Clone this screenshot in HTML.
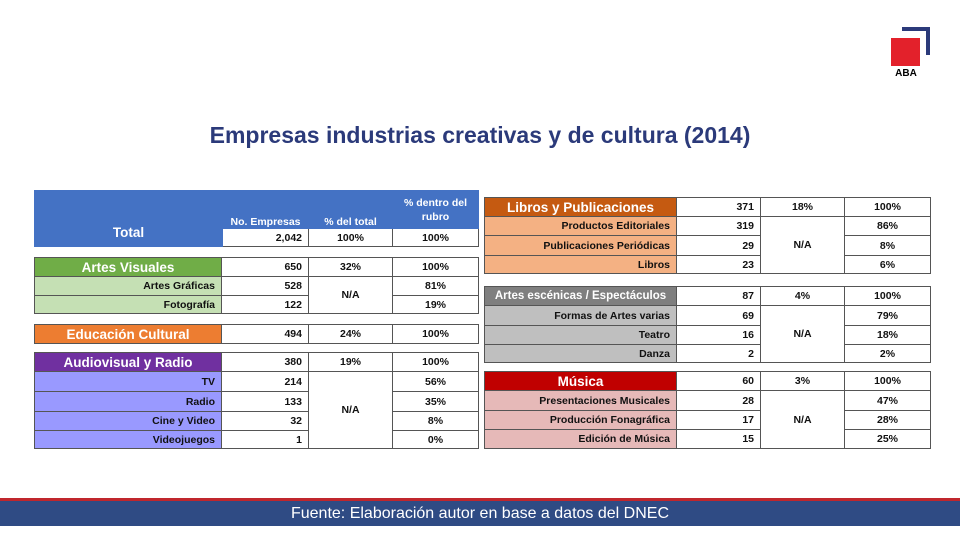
<!DOCTYPE html>
<html><head><meta charset="utf-8"><style>
body{margin:0;width:960px;height:540px;background:#fff;position:relative;overflow:hidden;font-family:"Liberation Sans",sans-serif;}
.t{position:absolute;border-collapse:collapse;table-layout:fixed;font-size:10.5px;font-weight:bold;color:#111;}
.t td{border:1px solid #555;padding:0 6px;white-space:nowrap;overflow:hidden;}
.r{text-align:right}.c{text-align:center}
.h{color:#fff;font-size:13.5px;text-align:center}
.title{position:absolute;top:122px;left:0;width:960px;text-align:center;font-size:23px;font-weight:bold;color:#2b3a7a;}
</style></head><body>
<div class="title">Empresas industrias creativas y de cultura (2014)</div>
<div style="position:absolute;left:902px;top:27px;width:28px;height:28px;border-top:4px solid #2b3a7a;border-right:4px solid #2b3a7a;box-sizing:border-box"></div>
<div style="position:absolute;left:891px;top:38px;width:29px;height:28px;background:#e3212b"></div>
<div style="position:absolute;left:890px;top:68px;width:32px;text-align:center;font-size:10px;font-weight:bold">ABA</div>

<!-- Total -->
<table class="t" style="left:34px;top:190px;width:444px">
<col style="width:188px"><col style="width:86px"><col style="width:84px"><col style="width:86px">
<tr style="height:38px"><td rowspan="2" class="h" style="background:#4472c4;border-color:#4472c4;vertical-align:bottom;padding-bottom:6px">Total</td>
<td class="c" style="background:#4472c4;color:#fff;border-color:#4472c4;vertical-align:bottom">No. Empresas</td>
<td class="c" style="background:#4472c4;color:#fff;border-color:#4472c4;vertical-align:bottom">% del total</td>
<td class="c" style="background:#4472c4;color:#fff;border-color:#4472c4;white-space:normal;line-height:14px">% dentro del rubro</td></tr>
<tr style="height:18px"><td class="r">2,042</td><td class="c">100%</td><td class="c">100%</td></tr>
</table>

<table class="t" style="left:34px;top:257px;width:444px">
<col style="width:187px"><col style="width:87px"><col style="width:84px"><col style="width:86px">
<tr style="height:19px"><td class="h" style="background:#70ad47">Artes Visuales</td><td class="r">650</td><td class="c">32%</td><td class="c">100%</td></tr>
<tr style="height:19px"><td class="r" style="background:#c5e0b4">Artes Gráficas</td><td class="r">528</td><td class="c" rowspan="2">N/A</td><td class="c">81%</td></tr>
<tr style="height:18px"><td class="r" style="background:#c5e0b4">Fotografía</td><td class="r">122</td><td class="c">19%</td></tr>
</table>

<table class="t" style="left:34px;top:324px;width:444px">
<col style="width:187px"><col style="width:87px"><col style="width:84px"><col style="width:86px">
<tr style="height:19px"><td class="h" style="background:#ed7d31">Educación Cultural</td><td class="r">494</td><td class="c">24%</td><td class="c">100%</td></tr>
</table>

<table class="t" style="left:34px;top:352px;width:444px">
<col style="width:187px"><col style="width:87px"><col style="width:84px"><col style="width:86px">
<tr style="height:19px"><td class="h" style="background:#7030a0">Audiovisual y Radio</td><td class="r">380</td><td class="c">19%</td><td class="c">100%</td></tr>
<tr style="height:20px"><td class="r" style="background:#9999ff">TV</td><td class="r">214</td><td class="c" rowspan="4">N/A</td><td class="c">56%</td></tr>
<tr style="height:20px"><td class="r" style="background:#9999ff">Radio</td><td class="r">133</td><td class="c">35%</td></tr>
<tr style="height:19px"><td class="r" style="background:#9999ff">Cine y Video</td><td class="r">32</td><td class="c">8%</td></tr>
<tr style="height:18px"><td class="r" style="background:#9999ff">Videojuegos</td><td class="r">1</td><td class="c">0%</td></tr>
</table>

<!-- Right -->
<table class="t" style="left:484px;top:197px;width:446px">
<col style="width:192px"><col style="width:84px"><col style="width:84px"><col style="width:86px">
<tr style="height:19px"><td class="h" style="background:#c55a11">Libros y Publicaciones</td><td class="r">371</td><td class="c">18%</td><td class="c">100%</td></tr>
<tr style="height:19px"><td class="r" style="background:#f4b183">Productos Editoriales</td><td class="r">319</td><td class="c" rowspan="3">N/A</td><td class="c">86%</td></tr>
<tr style="height:20px"><td class="r" style="background:#f4b183">Publicaciones Periódicas</td><td class="r">29</td><td class="c">8%</td></tr>
<tr style="height:18px"><td class="r" style="background:#f4b183">Libros</td><td class="r">23</td><td class="c">6%</td></tr>
</table>

<table class="t" style="left:484px;top:286px;width:446px">
<col style="width:192px"><col style="width:84px"><col style="width:84px"><col style="width:86px">
<tr style="height:19px"><td class="h" style="background:#7f7f7f;font-size:11.5px;padding:0 2px">Artes escénicas / Espectáculos</td><td class="r">87</td><td class="c">4%</td><td class="c">100%</td></tr>
<tr style="height:20px"><td class="r" style="background:#bfbfbf">Formas de Artes varias</td><td class="r">69</td><td class="c" rowspan="3">N/A</td><td class="c">79%</td></tr>
<tr style="height:19px"><td class="r" style="background:#bfbfbf">Teatro</td><td class="r">16</td><td class="c">18%</td></tr>
<tr style="height:18px"><td class="r" style="background:#bfbfbf">Danza</td><td class="r">2</td><td class="c">2%</td></tr>
</table>

<table class="t" style="left:484px;top:371px;width:446px">
<col style="width:192px"><col style="width:84px"><col style="width:84px"><col style="width:86px">
<tr style="height:19px"><td class="h" style="background:#c00000">Música</td><td class="r">60</td><td class="c">3%</td><td class="c">100%</td></tr>
<tr style="height:20px"><td class="r" style="background:#e6b9b8">Presentaciones Musicales</td><td class="r">28</td><td class="c" rowspan="3">N/A</td><td class="c">47%</td></tr>
<tr style="height:19px"><td class="r" style="background:#e6b9b8">Producción Fonagráfica</td><td class="r">17</td><td class="c">28%</td></tr>
<tr style="height:19px"><td class="r" style="background:#e6b9b8">Edición de Música</td><td class="r">15</td><td class="c">25%</td></tr>
</table>

<div style="position:absolute;left:0;top:498px;width:960px;height:3px;background:#c0262d"></div>
<div style="position:absolute;left:0;top:501px;width:960px;height:25px;background:#2f4b84;color:#fff;text-align:center;font-size:16px;line-height:25px">Fuente: Elaboración autor en base a datos del DNEC</div>
</body></html>
